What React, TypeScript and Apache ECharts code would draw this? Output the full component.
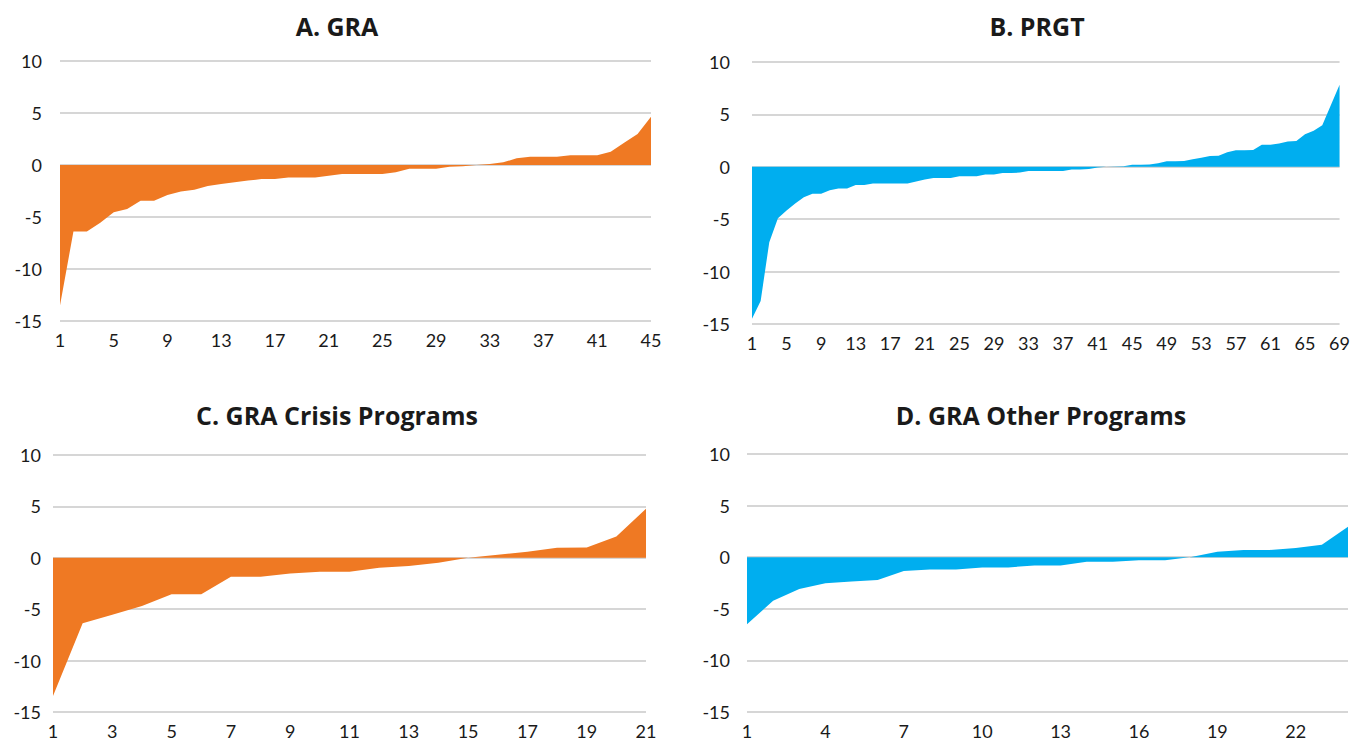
import React, { useEffect, useRef } from "react";
import * as echarts from "echarts";

const graValues = [
  -13.5, -6.4, -6.4, -5.55, -4.55, -4.23, -3.43, -3.43, -2.88, -2.56,
  -2.37, -2.02, -1.83, -1.67, -1.5, -1.35, -1.35, -1.19, -1.19, -1.19,
  -1.03, -0.87, -0.87, -0.87, -0.87, -0.7, -0.35, -0.35, -0.35, -0.16,
  -0.13, 0, 0.1, 0.26, 0.64, 0.8, 0.8, 0.8, 0.93, 0.93,
  0.93, 1.28, 2.15, 2.98, 4.65,
];

const prgtValues = [
  -14.5, -12.8, -7.2, -4.9, -4.17, -3.5, -2.9, -2.56, -2.56, -2.24,
  -2.08, -2.08, -1.73, -1.73, -1.6, -1.6, -1.6, -1.6, -1.6, -1.4,
  -1.22, -1.06, -1.06, -1.06, -0.9, -0.9, -0.9, -0.74, -0.74, -0.58,
  -0.58, -0.55, -0.4, -0.4, -0.4, -0.4, -0.4, -0.26, -0.26, -0.2,
  -0.06, 0, 0.03, 0.06, 0.2, 0.2, 0.23, 0.35, 0.52, 0.52,
  0.55, 0.71, 0.87, 1.03, 1.06, 1.39, 1.58, 1.58, 1.6, 2.1,
  2.1, 2.23, 2.42, 2.45, 3.1, 3.45, 3.97, 5.9, 7.84,
];

const crisisValues = [
  -13.45, -6.37, -5.55, -4.68, -3.55, -3.55, -1.84, -1.84, -1.52, -1.35,
  -1.35, -0.97, -0.8, -0.48, 0, 0.3, 0.6, 0.97, 1.0, 2.06,
  4.77,
];

const otherValues = [
  -6.5, -4.22, -3.07, -2.52, -2.36, -2.2, -1.34, -1.18, -1.18, -0.99,
  -0.99, -0.8, -0.8, -0.45, -0.45, -0.29, -0.29, 0.03, 0.54, 0.7,
  0.7, 0.9, 1.2, 2.94,
];

const panelTitles = ["A. GRA", "B. PRGT", "C. GRA Crisis Programs", "D. GRA Other Programs"];
const yTicks = { min: -15, max: 10, interval: 5 };

const ORANGE = "#EF7923";
const BLUE = "#00AEEF";

const cats = (n: number) => Array.from({ length: n }, (_, i) => String(i + 1));

export default function App() {
  const ref = useRef<HTMLDivElement>(null);
  useEffect(() => {
    if (!ref.current) return;
    const chart = echarts.init(ref.current, undefined, { renderer: "svg" });
    const font = "Lato, 'Open Sans', sans-serif";
    const titleFont = "'Open Sans', Lato, sans-serif";
    const grids = [
      { left: 60, top: 61, width: 591, height: 260 },
      { left: 752, top: 62, width: 592, height: 262 },
      { left: 53, top: 455, width: 593, height: 259 },
      { left: 747, top: 454, width: 601, height: 260 },
    ];
    const datasets = [graValues, prgtValues, crisisValues, otherValues];
    const colors = [ORANGE, BLUE, ORANGE, BLUE];
    const intervals = [3, 3, 1, 2];
    const yMargins = [18, 22, 12, 17];
    const titlePos = [
      { left: 332, top: 21 },
      { left: 1032, top: 21 },
      { left: 332, top: 410 },
      { left: 1036, top: 410 },
    ];
    chart.setOption({
      animation: false,
      backgroundColor: "#ffffff",
      title: panelTitles.map((t, i) => ({
        text: t,
        left: titlePos[i].left,
        top: titlePos[i].top,
        textAlign: "center",
        textVerticalAlign: "middle",
        textStyle: { fontFamily: titleFont, fontSize: 25, fontWeight: "bold", color: "#1a1a1a" },
      })),
      grid: grids.map((g) => ({ ...g, containLabel: false })),
      xAxis: datasets.map((d, i) => ({
        type: "category",
        gridIndex: i,
        data: cats(d.length),
        boundaryGap: false,
        axisLine: { show: false },
        axisTick: { show: false },
        axisLabel: {
          interval: intervals[i],
          fontFamily: font,
          fontSize: 18,
          color: "#1a1a1a",
          margin: 10,
        },
        splitLine: { show: false },
      })),
      yAxis: datasets.map((_, i) => ({
        type: "value",
        gridIndex: i,
        min: yTicks.min,
        max: yTicks.max,
        interval: yTicks.interval,
        axisLine: { show: false },
        axisTick: { show: false },
        axisLabel: {
          fontFamily: font,
          fontSize: 18,
          color: "#1a1a1a",
          margin: yMargins[i],
        },
        splitLine: { show: true, lineStyle: { color: "#c8c8c8", width: 1.5 } },
      })),
      series: datasets.map((d, i) => ({
        type: "line",
        xAxisIndex: i,
        yAxisIndex: i,
        data: d,
        showSymbol: false,
        symbol: "none",
        lineStyle: { width: 0, color: colors[i] },
        itemStyle: { color: colors[i] },
        areaStyle: { color: colors[i], opacity: 1 },
      })),
    });
    return () => chart.dispose();
  }, []);
  return (
    <div
      ref={ref}
      style={{ position: "fixed", left: 0, top: 0, width: 1353, height: 740 }}
    />
  );
}
